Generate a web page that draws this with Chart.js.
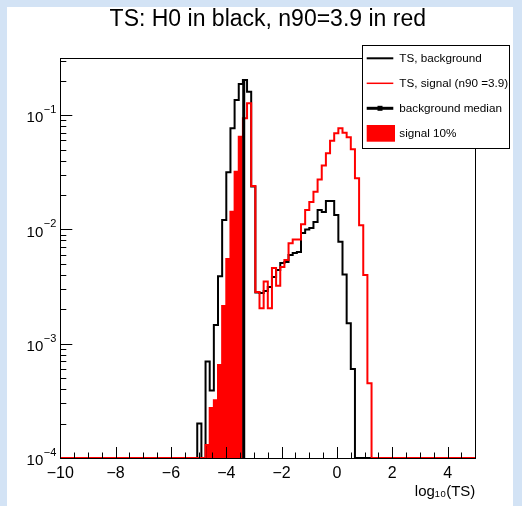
<!DOCTYPE html>
<html><head><meta charset="utf-8">
<script src="https://cdn.jsdelivr.net/npm/chart.js@4/dist/chart.umd.min.js"></script>
<style>
html,body{margin:0;padding:0;background:#d3e3f5;width:522px;height:506px;overflow:hidden}
#wrap{position:absolute;left:7px;top:7px;width:506px;height:499px;background:#fff}
canvas{display:block}
</style></head><body>
<div id="wrap"><canvas id="c" width="506" height="499"></canvas></div>
<script>
// ---- axis ranges / binning ----
const X_MIN = -10, X_MAX = 5, BIN_WIDTH = 0.15;
const Y_MIN = 1e-4, Y_MAX = 0.316;
const xTickValues = [-10, -8, -6, -4, -2, 0, 2, 4];
const yTickValues = [1e-4, 1e-3, 1e-2, 1e-1];
const yTickExponents = ['\u22124', '\u22123', '\u22122', '\u22121'];

// ---- background TS histogram (bins starting at bin index 33) ----
const bgFirstBin = 33;
const background = [
  2.0e-4, 0, 7.0e-4, 3.9e-4, 1.46e-3, 3.9e-3, 1.21e-2, 3.16e-2, 7.66e-2, 1.355e-1,
  1.87e-1, 2.03e-1, 1.60e-1, 2.37e-2, 2.8e-3, 2.78e-3, 2.89e-3, 3.13e-3, 3.83e-3, 4.41e-3,
  5.08e-3, 5.19e-3, 5.97e-3, 6.22e-3, 6.34e-3, 9.3e-3, 1.0e-2, 1.03e-2, 1.16e-2, 1.48e-2,
  1.42e-2, 1.77e-2, 1.77e-2, 1.34e-2, 7.8e-3, 4.03e-3, 1.51e-3, 6.0e-4
];

// ---- signal TS histogram (bins starting at bin index 35) ----
const sigFirstBin = 35;
const signal = [
  1.3e-4, 2.74e-4, 3.2e-4, 6.5e-4, 2.14e-3, 5.5e-3, 1.43e-2, 3.2e-2, 6.47e-2, 9.4e-2,
  1.27e-1, 2.4e-2, 2.83e-3, 2.04e-3, 3.5e-3, 2.04e-3, 4.6e-3, 3.22e-3, 4.69e-3, 5.4e-3,
  7.56e-3, 8.16e-3, 8.16e-3, 1.11e-2, 1.48e-2, 1.74e-2, 2.14e-2, 2.74e-2, 3.62e-2, 4.63e-2,
  5.97e-2, 6.93e-2, 7.67e-2, 7.02e-2, 6.39e-2, 5.02e-2, 2.80e-2, 1.09e-2, 3.99e-3, 4.5e-4
];

// ---- background median ----
const medianTS = -3.37;
const medianHeight = 0.2;

const titleText = 'TS: H0 in black, n90=3.9 in red';
const xTitle = 'log\u2081\u2080(TS)';
const legendLabels = ['TS, background', 'TS, signal (n90 =3.9)', 'background median', 'signal 10%'];

const FONT = "'Liberation Sans', Arial, Helvetica, sans-serif";
const nBins = Math.round((X_MAX - X_MIN) / BIN_WIDTH);
const edge = k => X_MIN + k * BIN_WIDTH;

function histPoints(first, vals) {
  const pts = [];
  for (let k = 0; k < nBins; k++) {
    const i = k - first;
    const v = (i >= 0 && i < vals.length && vals[i] > 0) ? vals[i] : Y_MIN;
    pts.push({x: edge(k), y: v});
  }
  pts.push({x: X_MAX, y: pts[pts.length - 1].y});
  return pts;
}
function tailPoints(first, vals, cut) {
  const pts = [];
  let k = first;
  for (let i = 0; i < vals.length; i++, k++) {
    if (edge(k + 1) > cut + 1e-9) break;
    pts.push({x: edge(k), y: vals[i]});
  }
  pts.push({x: edge(k), y: Y_MIN});
  return pts;
}

const frameTicks = {
  id: 'frameTicks',
  afterDatasetsDraw(chart) {
    const {ctx, chartArea: a, scales: {x, y}} = chart;
    ctx.save();
    ctx.strokeStyle = '#000';
    ctx.lineWidth = 1;
    ctx.beginPath();
    const nx = Math.round((X_MAX - X_MIN) / 0.5);
    for (let i = 0; i <= nx; i++) {
      const v = X_MIN + i * 0.5;
      const px = Math.round(x.getPixelForValue(v)) + 0.5;
      const len = (i % 4 === 0) ? 11 : 5.5;
      ctx.moveTo(px, a.bottom);
      ctx.lineTo(px, a.bottom - len);
    }
    for (let d = -4; d <= -1; d++) {
      for (let m = 1; m <= 9; m++) {
        const v = m * Math.pow(10, d);
        if (v > Y_MAX) break;
        const py = Math.round(y.getPixelForValue(v)) + 0.5;
        const len = m === 1 ? 12 : 6;
        ctx.moveTo(a.left, py);
        ctx.lineTo(a.left + len, py);
      }
    }
    ctx.stroke();
    ctx.strokeRect(Math.round(a.left) + 0.5, Math.round(a.top) + 0.5,
                   Math.round(a.right) - Math.round(a.left), Math.round(a.bottom) - Math.round(a.top));
    // y tick labels: "10" with superscript exponent
    ctx.fillStyle = '#000';
    ctx.textBaseline = 'middle';
    const R = a.left - 4;
    yTickValues.forEach((v, i) => {
      const py = y.getPixelForValue(v);
      ctx.font = '11px ' + FONT;
      const we = ctx.measureText(yTickExponents[i]).width;
      ctx.textAlign = 'left';
      ctx.fillText(yTickExponents[i], R - we, py - 5);
      ctx.font = '15px ' + FONT;
      ctx.textAlign = 'right';
      ctx.fillText('10', R - we - 0.5, py + 3);
    });
    ctx.restore();
  }
};

const legendBox = {
  id: 'legendBox',
  afterDraw(chart) {
    const ctx = chart.ctx;
    const bx = 355.5, by = 38.5, bw = 147, bh = 103;
    ctx.save();
    ctx.fillStyle = '#fff';
    ctx.fillRect(bx, by, bw, bh);
    ctx.strokeStyle = '#000';
    ctx.lineWidth = 1;
    ctx.strokeRect(bx, by, bw, bh);
    const rows = [51.3, 76.3, 101.3, 126.3];
    const lx0 = 359.7, lx1 = 386.3, tx = 392.3;
    ctx.strokeStyle = '#000'; ctx.lineWidth = 2;
    ctx.beginPath(); ctx.moveTo(lx0, rows[0]); ctx.lineTo(lx1, rows[0]); ctx.stroke();
    ctx.strokeStyle = '#ff0000'; ctx.lineWidth = 1.5;
    ctx.beginPath(); ctx.moveTo(lx0, rows[1]); ctx.lineTo(lx1, rows[1]); ctx.stroke();
    ctx.strokeStyle = '#000'; ctx.lineWidth = 3;
    ctx.beginPath(); ctx.moveTo(lx0, rows[2]); ctx.lineTo(lx1, rows[2]); ctx.stroke();
    ctx.fillStyle = '#000';
    ctx.fillRect((lx0 + lx1) / 2 - 2.5, rows[2] - 2.5, 5, 5);
    ctx.fillStyle = '#ff0000';
    ctx.fillRect(lx0, rows[3] - 8.3, 28.3, 16.7);
    ctx.fillStyle = '#000';
    ctx.font = '11.7px ' + FONT;
    ctx.textBaseline = 'middle';
    ctx.textAlign = 'left';
    legendLabels.forEach((t, i) => ctx.fillText(t, tx, rows[i]));
    ctx.restore();
  }
};

new Chart(document.getElementById('c'), {
  type: 'line',
  data: {
    datasets: [
      {label: legendLabels[2], data: [{x: medianTS, y: Y_MIN}, {x: medianTS, y: medianHeight}],
       borderColor: '#000', borderWidth: 3, pointRadius: 0, fill: false},
      {label: legendLabels[1], data: histPoints(sigFirstBin, signal), stepped: 'before',
       borderColor: '#ff0000', borderWidth: 2, pointRadius: 0, fill: false},
      {label: legendLabels[0], data: histPoints(bgFirstBin, background), stepped: 'before',
       borderColor: '#000', borderWidth: 2, pointRadius: 0, fill: false},
      {label: legendLabels[3], data: tailPoints(sigFirstBin, signal, medianTS), stepped: 'before',
       borderColor: '#ff0000', borderWidth: 0, backgroundColor: '#ff0000', pointRadius: 0, fill: 'start'}
    ]
  },
  options: {
    responsive: false, animation: false, devicePixelRatio: 1,
    layout: {padding: {left: 0, right: 37.7, top: 0, bottom: 0}},
    plugins: {
      legend: {display: false}, tooltip: {enabled: false},
      title: {display: true, text: titleText, fullSize: false, color: '#000',
              font: {family: FONT, size: 23, weight: 'normal', lineHeight: 1.0}, padding: {top: 1, bottom: 27}}
    },
    scales: {
      x: {
        type: 'linear', min: X_MIN, max: X_MAX,
        grid: {display: false, drawTicks: false}, border: {display: false},
        afterBuildTicks: s => { s.ticks = xTickValues.map(v => ({value: v})); },
        ticks: {autoSkip: false, maxRotation: 0, padding: 6, color: '#000',
                font: {family: FONT, size: 16},
                callback: v => (v < 0 ? '\u2212' : '') + Math.abs(v)},
        title: {display: true, text: xTitle, align: 'end', color: '#000',
                font: {family: FONT, size: 15}, padding: {top: 0, bottom: 5}},
        afterFit: s => { s.height = 48; }
      },
      y: {
        type: 'logarithmic', min: Y_MIN, max: Y_MAX,
        grid: {display: false, drawTicks: false}, border: {display: false},
        afterBuildTicks: s => { s.ticks = yTickValues.map(v => ({value: v})); },
        ticks: {display: false},
        afterFit: s => { s.width = 53.3; }
      }
    }
  },
  plugins: [frameTicks, legendBox]
});
</script>
</body></html>
